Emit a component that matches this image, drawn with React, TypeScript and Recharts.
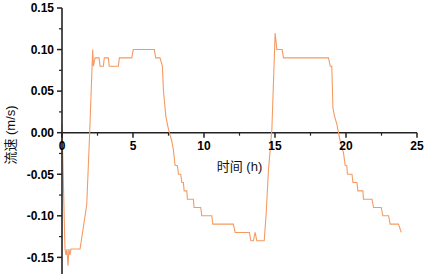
import React from 'react';
import { LineChart, Line, XAxis, YAxis, ReferenceDot, ReferenceLine } from 'recharts';

const hours = [
  0, 0.21, 0.28, 0.35, 0.42, 0.49, 0.56, 0.63, 1.27, 1.74, 1.95, 2.16, 2.21, 2.33, 2.61, 2.68,
  2.91, 2.98, 3.26, 3.33, 3.97, 4.04, 4.91, 5.02, 6.5, 6.6, 6.9, 7.07, 7.14, 7.31, 7.45, 7.56,
  7.73, 7.84, 7.96, 8.13, 8.2, 8.36, 8.44, 8.55, 8.6, 8.79, 8.83, 9.25, 9.3, 9.77, 9.84, 10.55,
  10.62, 12.07, 12.19, 13.2, 13.3, 13.48, 13.6, 13.72, 14.24, 14.38, 14.54, 14.78, 15.01, 15.13,
  15.5, 15.6, 18.77, 18.89, 19.0, 19.08, 19.19, 19.36, 19.47, 19.59, 19.82, 19.94, 20.06, 20.1,
  20.42, 20.49, 20.77, 20.84, 21.19, 21.23, 21.83, 21.94, 22.48, 22.6, 23.0, 23.11, 23.7, 23.89,
];

const speed = [
  0.01, -0.14, -0.147, -0.14, -0.16, -0.14, -0.147, -0.14, -0.14, -0.087, 0.0, 0.1, 0.08, 0.09, 0.09, 0.08,
  0.08, 0.09, 0.09, 0.08, 0.08, 0.09, 0.09, 0.1, 0.1, 0.09, 0.09, 0.08, 0.052, 0.02, 0.008, 0.0,
  -0.01, -0.02, -0.039, -0.04, -0.05, -0.05, -0.06, -0.06, -0.07, -0.07, -0.08, -0.08, -0.09, -0.09, -0.1, -0.1,
  -0.11, -0.11, -0.12, -0.12, -0.13, -0.13, -0.12, -0.13, -0.13, -0.097, -0.045, 0.004, 0.12, 0.1,
  0.1, 0.09, 0.09, 0.08, 0.08, 0.03, 0.02, 0.01, 0.0, -0.01, -0.024, -0.039, -0.04, -0.05,
  -0.05, -0.06, -0.06, -0.07, -0.07, -0.08, -0.08, -0.09, -0.09, -0.1, -0.1, -0.11, -0.11, -0.12,
];

const xMajor = [0, 5, 10, 15, 20, 25];
const xMinor = [2.5, 7.5, 12.5, 17.5, 22.5];
const yMajor = [-0.15, -0.1, -0.05, 0, 0.05, 0.1, 0.15];
const yMinor = [-0.125, -0.075, -0.025, 0.025, 0.075, 0.125];

const xTitle = '时间 (h)';
const yTitle = '流速 (m/s)';

const data = hours.map((h, i) => ({ h, v: speed[i] }));

const FONT = "'Liberation Sans', Arial, 'Noto Sans CJK SC', sans-serif";
const AXIS = '#222';

export default function App() {
  return (
    <div style={{ position: 'absolute', left: 0, top: 0, background: '#fff' }}>
      <LineChart width={425} height={275} data={data} margin={{ top: 8, right: 8, bottom: 1, left: 0 }}>
        <XAxis dataKey="h" type="number" domain={[0, 25]} hide />
        <YAxis
          type="number"
          domain={[-0.17, 0.15]}
          allowDataOverflow
          ticks={yMajor}
          width={62}
          tickSize={5}
          tickMargin={3}
          tickFormatter={(v: number) => v.toFixed(2)}
          tick={{ fill: '#000', fontSize: 12, fontFamily: FONT, fontWeight: 'bold' }}
          axisLine={{ stroke: AXIS, strokeWidth: 1.6 }}
          tickLine={{ stroke: AXIS, strokeWidth: 1.5 }}
          label={{
            content: (p: any) => {
              const vb = p.viewBox;
              const cx = vb.x + 10;
              const cy = vb.y + vb.height / 2 - 6;
              return (
                <text
                  x={cx}
                  y={cy}
                  transform={`rotate(-90 ${cx} ${cy})`}
                  textAnchor="middle"
                  dominantBaseline="central"
                  fontSize={13}
                  fontFamily={FONT}
                  fill="#111"
                >
                  {yTitle}
                </text>
              );
            },
          }}
        />
        {/* x axis runs along y = 0 */}
        <ReferenceLine y={0} stroke={AXIS} strokeWidth={1.6} />
        {yMinor.map((v) => (
          <ReferenceDot
            key={'ym' + v}
            x={0}
            y={v}
            r={0}
            shape={(p: any) => (
              <line x1={p.cx - 3} y1={p.cy} x2={p.cx} y2={p.cy} stroke={AXIS} strokeWidth={1.2} />
            )}
          />
        ))}
        {xMinor.map((t) => (
          <ReferenceDot
            key={'xm' + t}
            x={t}
            y={0}
            r={0}
            shape={(p: any) => (
              <line x1={p.cx} y1={p.cy} x2={p.cx} y2={p.cy + 3} stroke={AXIS} strokeWidth={1.2} />
            )}
          />
        ))}
        {xMajor.map((t) => (
          <ReferenceDot
            key={'xM' + t}
            x={t}
            y={0}
            r={0}
            shape={(p: any) => (
              <g>
                <line x1={p.cx} y1={p.cy} x2={p.cx} y2={p.cy + 5} stroke={AXIS} strokeWidth={1.5} />
                <text
                  x={p.cx}
                  y={p.cy + 17}
                  textAnchor="middle"
                  fontSize={12}
                  fontFamily={FONT}
                  fontWeight="bold"
                  fill="#000"
                >
                  {t}
                </text>
              </g>
            )}
          />
        ))}
        <ReferenceDot
          x={12.5}
          y={0}
          r={0}
          shape={(p: any) => (
            <text x={p.cx} y={p.cy + 38} textAnchor="middle" fontSize={13} fontFamily={FONT} fill="#111">
              {xTitle}
            </text>
          )}
        />
        <Line
          type="linear"
          dataKey="v"
          stroke="#F59A62"
          strokeWidth={1.1}
          dot={false}
          activeDot={false}
          isAnimationActive={false}
        />
      </LineChart>
    </div>
  );
}
